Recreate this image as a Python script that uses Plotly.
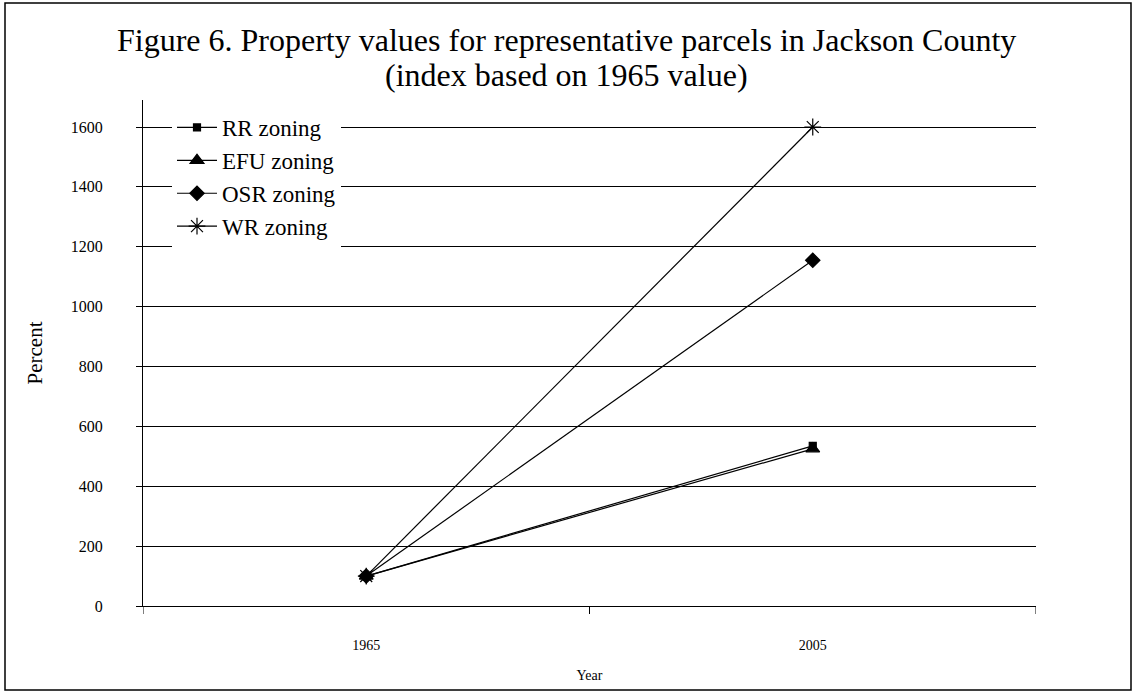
import plotly.graph_objects as go

# Index values (1965 = 100) for each zoning class
years = ["1965", "2005"]
rr_values = [100, 535]
efu_values = [100, 525]
osr_values = [100, 1155]
wr_values = [100, 1600]

series_names = ["RR zoning", "EFU zoning", "OSR zoning", "WR zoning"]
series_values = [rr_values, efu_values, osr_values, wr_values]
series_symbols = ["square", "triangle-up", "diamond", "asterisk-open"]
series_sizes = [7, 12, 11, 14]

y_ticks = [0, 200, 400, 600, 800, 1000, 1200, 1400, 1600]

title_lines = [
    "Figure 6. Property values for representative parcels in Jackson County",
    "(index based on 1965 value)",
]

FONT = "Liberation Serif, Times New Roman, serif"

fig = go.Figure()
for name, vals, sym, size in zip(series_names, series_values, series_symbols, series_sizes):
    fig.add_trace(go.Scatter(
        x=years, y=vals, name=name, mode="lines+markers",
        line=dict(color="black", width=1.2),
        marker=dict(symbol=sym, size=size, color="black",
                    line=dict(color="black", width=1.2)),
    ))

# plot area in pixels
L, R, T, B = 143, 97, 100, 86
W, H = 1133, 692
pw, ph = W - L - R, H - T - B


def py(pixel_y):
    """Convert a pixel row (from the top) to paper y."""
    return (H - B - pixel_y) / ph


def px(pixel_x):
    """Convert a pixel column (from the left) to paper x."""
    return (pixel_x - L) / pw


fig.update_layout(
    width=W, height=H,
    margin=dict(l=L, r=R, t=T, b=B),
    paper_bgcolor="white", plot_bgcolor="white",
    font=dict(family=FONT, color="black", size=14),
    showlegend=True,
    legend=dict(
        x=px(172), y=py(106), xanchor="left", yanchor="top",
        bgcolor="white", font=dict(family=FONT, size=23, color="black"),
        tracegroupgap=0, itemwidth=40,
    ),
    xaxis=dict(
        type="category", range=[-0.5, 1.5],
        showline=True, linecolor="black", linewidth=1,
        showgrid=False, ticks="", zeroline=False,
        tickfont=dict(family=FONT, size=14), ticklabelstandoff=26,
        title=dict(text="Year", font=dict(family=FONT, size=14), standoff=18),
    ),
    yaxis=dict(
        range=[0, ph / (479 / 1600)], tickvals=y_ticks,
        showline=True, linecolor="black", linewidth=1,
        showgrid=True, gridcolor="black", gridwidth=1,
        ticks="outside", ticklen=6, tickcolor="black", zeroline=False,
        tickfont=dict(family=FONT, size=16), ticklabelstandoff=30,
        title=dict(text="Percent", font=dict(family=FONT, size=21), standoff=22),
    ),
)

# two-line chart title
for line_text, yc in zip(title_lines, [40, 75]):
    fig.add_annotation(
        text=line_text, xref="paper", yref="paper",
        x=px(566), y=py(yc), xanchor="center", yanchor="middle",
        showarrow=False, font=dict(family=FONT, size=32, color="black"),
    )

# tick marks separating the category slots on the x axis
for xv in [-0.5, 0.5, 1.5]:
    fig.add_shape(type="line", xref="x", yref="paper", x0=xv, x1=xv, y0=0, y1=-8 / ph,
                  line=dict(color="black", width=1))

# outer frame around the whole chart
fig.add_shape(type="rect", xref="paper", yref="paper",
              x0=px(5), x1=px(1131), y0=py(690), y1=py(3),
              line=dict(color="black", width=1.5), fillcolor="rgba(0,0,0,0)")

fig.write_html("out.html")
